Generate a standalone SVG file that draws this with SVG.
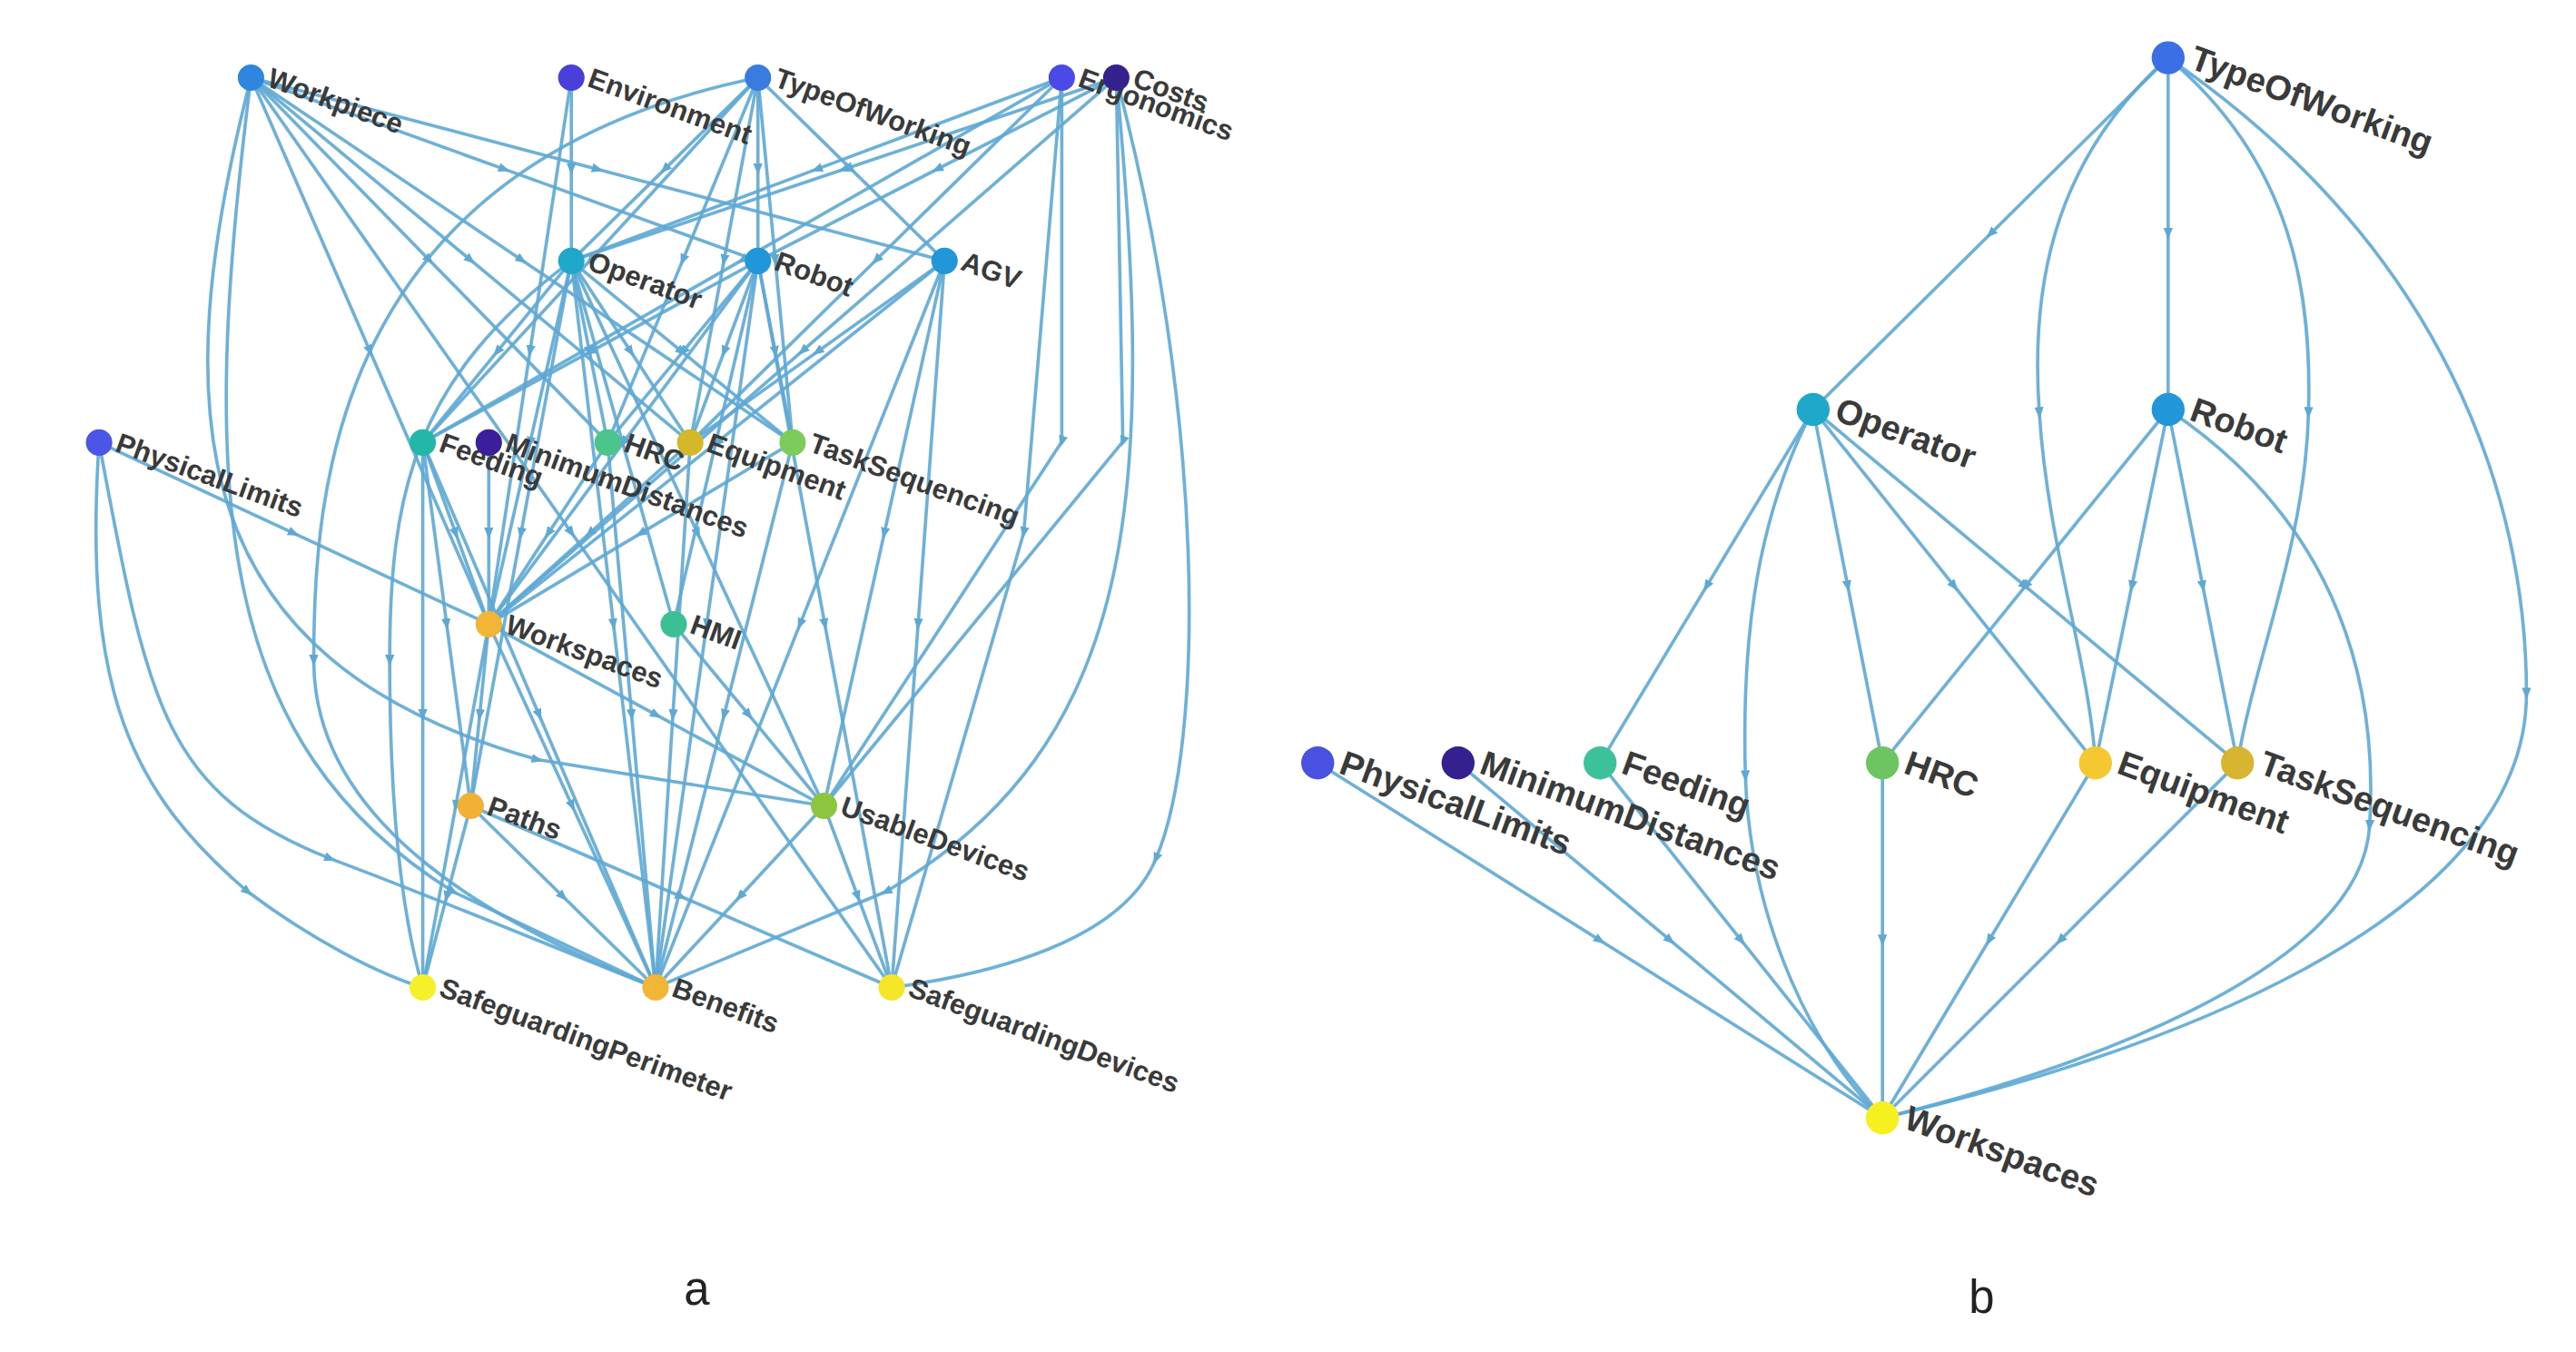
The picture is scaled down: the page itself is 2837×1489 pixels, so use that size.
<svg xmlns="http://www.w3.org/2000/svg" width="2837" height="1489" viewBox="0 0 2837 1489">
<defs>
<marker id="ar" viewBox="0 0 10 10" refX="5" refY="5" markerWidth="7" markerHeight="7" markerUnits="userSpaceOnUse" orient="auto"><path d="M0,1 L10,5 L0,9 Z" fill="#5ea8d4"/></marker>
<style>
.e{fill:none;stroke:#5ea8d4;stroke-width:2;stroke-opacity:0.9;marker-mid:url(#ar)}
.la{font-family:"Liberation Sans",Arial,sans-serif;font-size:17px;font-weight:bold;fill:#3a3a3a}
.lb{font-family:"Liberation Sans",Arial,sans-serif;font-size:21px;font-weight:bold;fill:#3a3a3a}
.cap{font-family:"Liberation Sans",Arial,sans-serif;font-size:28px;fill:#222}
</style>
</defs>
<rect width="2837" height="1489" fill="#fff"/>
<g transform="scale(1.8186)">
<g id="connectors">
<path class="e" d="M152 47L305.5 102.5L459 158"/>
<path class="e" d="M152 47L362 102.5L572 158"/>
<path class="e" d="M152 47L285 157.5L418 268"/>
<path class="e" d="M152 47L316 157.5L480 268"/>
<path class="e" d="M152 47L260 157.5L368 268"/>
<path class="e" d="M152 47L224 212.5L296 378"/>
<path class="e" d="M152 47C100 250 110 400 325.5 460L499 488"/>
<path class="e" d="M152 47C120 300 130 450 274.5 540L397 598"/>
<path class="e" d="M152 47L346 322.5L540 598"/>
<path class="e" d="M346 47L346 102.5L346 158"/>
<path class="e" d="M346 47L321 212.5L296 378"/>
<path class="e" d="M459 47L402.5 102.5L346 158"/>
<path class="e" d="M459 47L459 102.5L459 158"/>
<path class="e" d="M459 47L515.5 102.5L572 158"/>
<path class="e" d="M459 47L357.5 157.5L256 268"/>
<path class="e" d="M459 47L438.5 157.5L418 268"/>
<path class="e" d="M459 47L469.5 157.5L480 268"/>
<path class="e" d="M459 47L413.5 157.5L368 268"/>
<path class="e" d="M459 47C200 100 190 300 190 400C190 500 300 560 397 598"/>
<path class="e" d="M643 47L494.5 102.5L346 158"/>
<path class="e" d="M643 47L449.5 157.5L256 268"/>
<path class="e" d="M643 47L530.5 157.5L418 268"/>
<path class="e" d="M643 47L643 267.5L499 488"/>
<path class="e" d="M643 47L620 322.5L540 598"/>
<path class="e" d="M676 47L511 102.5L346 158"/>
<path class="e" d="M676 47L567.5 102.5L459 158"/>
<path class="e" d="M676 47L486 212.5L296 378"/>
<path class="e" d="M676 47C700 300 690 450 536.5 540L397 598"/>
<path class="e" d="M676 47L680 267.5L499 488"/>
<path class="e" d="M676 47C730 250 730 450 700 520C680 570 600 590 540 598"/>
<path class="e" d="M346 158L301 213L256 268"/>
<path class="e" d="M346 158L357 213L368 268"/>
<path class="e" d="M346 158L382 213L418 268"/>
<path class="e" d="M346 158L413 213L480 268"/>
<path class="e" d="M346 158L321 268L296 378"/>
<path class="e" d="M346 158L377 268L408 378"/>
<path class="e" d="M346 158L315.5 323L285 488"/>
<path class="e" d="M346 158L422.5 323L499 488"/>
<path class="e" d="M346 158L371.5 378L397 598"/>
<path class="e" d="M346 158C250 230 236 300 236 400C236 500 245 560 256 598"/>
<path class="e" d="M459 158L357.5 213L256 268"/>
<path class="e" d="M459 158L413.5 213L368 268"/>
<path class="e" d="M459 158L438.5 213L418 268"/>
<path class="e" d="M459 158L469.5 213L480 268"/>
<path class="e" d="M459 158L377.5 268L296 378"/>
<path class="e" d="M459 158L433.5 268L408 378"/>
<path class="e" d="M459 158L428 378L397 598"/>
<path class="e" d="M459 158L499.5 378L540 598"/>
<path class="e" d="M572 158L434 268L296 378"/>
<path class="e" d="M572 158L495 213L418 268"/>
<path class="e" d="M572 158L535.5 323L499 488"/>
<path class="e" d="M572 158L484.5 378L397 598"/>
<path class="e" d="M572 158L556 378L540 598"/>
<path class="e" d="M60 268L178 323L296 378"/>
<path class="e" d="M60 268C50 420 80 480 150 540C190 570 230 590 256 598"/>
<path class="e" d="M60 268C90 430 100 480 200 520C280 550 350 580 397 598"/>
<path class="e" d="M256 268L276 323L296 378"/>
<path class="e" d="M256 268L270.5 378L285 488"/>
<path class="e" d="M256 268L326.5 433L397 598"/>
<path class="e" d="M256 268L256 433L256 598"/>
<path class="e" d="M296 268L296 323L296 378"/>
<path class="e" d="M368 268L332 323L296 378"/>
<path class="e" d="M368 268L382.5 433L397 598"/>
<path class="e" d="M418 268L357 323L296 378"/>
<path class="e" d="M418 268L407.5 433L397 598"/>
<path class="e" d="M480 268L388 323L296 378"/>
<path class="e" d="M480 268L438.5 433L397 598"/>
<path class="e" d="M296 378L290.5 433L285 488"/>
<path class="e" d="M296 378L397.5 433L499 488"/>
<path class="e" d="M296 378L346.5 488L397 598"/>
<path class="e" d="M296 378L276 488L256 598"/>
<path class="e" d="M408 378L453.5 433L499 488"/>
<path class="e" d="M285 488L341 543L397 598"/>
<path class="e" d="M285 488L412.5 543L540 598"/>
<path class="e" d="M285 488L270.5 543L256 598"/>
<path class="e" d="M499 488L448 543L397 598"/>
<path class="e" d="M499 488L519.5 543L540 598"/>

<path class="e" d="M1313 35L1205.5 141.5L1098 248"/>
<path class="e" d="M1313 35L1313 141.5L1313 248"/>
<path class="e" d="M1313 35C1240 100 1230 180 1235 250C1240 330 1265 400 1269 462"/>
<path class="e" d="M1313 35C1390 100 1400 180 1398 250C1396 330 1365 400 1355 462"/>
<path class="e" d="M1313 35C1480 150 1530 300 1530 420C1530 560 1300 640 1140 677"/>
<path class="e" d="M1098 248L1033.5 355L969 462"/>
<path class="e" d="M1098 248L1119 355L1140 462"/>
<path class="e" d="M1098 248L1183.5 355L1269 462"/>
<path class="e" d="M1098 248L1226.5 355L1355 462"/>
<path class="e" d="M1098 248C1060 320 1055 400 1057 470C1060 560 1100 640 1140 677"/>
<path class="e" d="M1313 248L1226.5 355L1140 462"/>
<path class="e" d="M1313 248L1291 355L1269 462"/>
<path class="e" d="M1313 248L1334 355L1355 462"/>
<path class="e" d="M1313 248C1420 320 1440 420 1435 500C1430 590 1250 650 1140 677"/>
<path class="e" d="M798 462L969 569.5L1140 677"/>
<path class="e" d="M883 462L1011.5 569.5L1140 677"/>
<path class="e" d="M969 462L1054.5 569.5L1140 677"/>
<path class="e" d="M1140 462L1140 569.5L1140 677"/>
<path class="e" d="M1269 462L1204.5 569.5L1140 677"/>
<path class="e" d="M1355 462L1247.5 569.5L1140 677"/>
</g>

<g id="a-Workpiece"><circle cx="152" cy="47" r="8" fill="#2e86de"/><text class="la" transform="translate(161,52) rotate(20)">Workpiece</text></g>
<g id="a-Environment"><circle cx="346" cy="47" r="8" fill="#4b3fd9"/><text class="la" transform="translate(355,52) rotate(20)">Environment</text></g>
<g id="a-TypeOfWorking"><circle cx="459" cy="47" r="8" fill="#3a7be0"/><text class="la" transform="translate(468,52) rotate(20)">TypeOfWorking</text></g>
<g id="a-Ergonomics"><circle cx="643" cy="47" r="8" fill="#4c4ae6"/><text class="la" transform="translate(652,52) rotate(20)">Ergonomics</text></g>
<g id="a-Costs"><circle cx="676" cy="47" r="8" fill="#35208f"/><text class="la" transform="translate(685,52) rotate(20)">Costs</text></g>
<g id="a-Operator"><circle cx="346" cy="158" r="8" fill="#1fa8c9"/><text class="la" transform="translate(355,163) rotate(20)">Operator</text></g>
<g id="a-Robot"><circle cx="459" cy="158" r="8" fill="#2196d8"/><text class="la" transform="translate(468,163) rotate(20)">Robot</text></g>
<g id="a-AGV"><circle cx="572" cy="158" r="8" fill="#2196d8"/><text class="la" transform="translate(581,163) rotate(20)">AGV</text></g>
<g id="a-PhysicalLimits"><circle cx="60" cy="268" r="8" fill="#4b55e6"/><text class="la" transform="translate(69,273) rotate(20)">PhysicalLimits</text></g>
<g id="a-Feeding"><circle cx="256" cy="268" r="8" fill="#23b7a8"/><text class="la" transform="translate(265,273) rotate(20)">Feeding</text></g>
<g id="a-MinimumDistances"><circle cx="296" cy="268" r="8" fill="#3a1e9a"/><text class="la" transform="translate(305,273) rotate(20)">MinimumDistances</text></g>
<g id="a-HRC"><circle cx="368" cy="268" r="8" fill="#4cc58a"/><text class="la" transform="translate(377,273) rotate(20)">HRC</text></g>
<g id="a-Equipment"><circle cx="418" cy="268" r="8" fill="#d4b82a"/><text class="la" transform="translate(427,273) rotate(20)">Equipment</text></g>
<g id="a-TaskSequencing"><circle cx="480" cy="268" r="8" fill="#7dcb5a"/><text class="la" transform="translate(489,273) rotate(20)">TaskSequencing</text></g>
<g id="a-Workspaces"><circle cx="296" cy="378" r="8" fill="#f2b535"/><text class="la" transform="translate(305,383) rotate(20)">Workspaces</text></g>
<g id="a-HMI"><circle cx="408" cy="378" r="8" fill="#3dbf95"/><text class="la" transform="translate(417,383) rotate(20)">HMI</text></g>
<g id="a-Paths"><circle cx="285" cy="488" r="8" fill="#f2b035"/><text class="la" transform="translate(294,493) rotate(20)">Paths</text></g>
<g id="a-UsableDevices"><circle cx="499" cy="488" r="8" fill="#8cc63f"/><text class="la" transform="translate(508,493) rotate(20)">UsableDevices</text></g>
<g id="a-SafeguardingPerimeter"><circle cx="256" cy="598" r="8" fill="#f5f02a"/><text class="la" transform="translate(265,603) rotate(20)">SafeguardingPerimeter</text></g>
<g id="a-Benefits"><circle cx="397" cy="598" r="8" fill="#f2b535"/><text class="la" transform="translate(406,603) rotate(20)">Benefits</text></g>
<g id="a-SafeguardingDevices"><circle cx="540" cy="598" r="8" fill="#f5e62a"/><text class="la" transform="translate(549,603) rotate(20)">SafeguardingDevices</text></g>

<g id="b-TypeOfWorking"><circle cx="1313" cy="35" r="10" fill="#3a6fe6"/><text class="lb" transform="translate(1325,41) rotate(20)">TypeOfWorking</text></g>
<g id="b-Operator"><circle cx="1098" cy="248" r="10" fill="#1fa8c9"/><text class="lb" transform="translate(1110,254) rotate(20)">Operator</text></g>
<g id="b-Robot"><circle cx="1313" cy="248" r="10" fill="#2196d8"/><text class="lb" transform="translate(1325,254) rotate(20)">Robot</text></g>
<g id="b-PhysicalLimits"><circle cx="798" cy="462" r="10" fill="#4a50e0"/><text class="lb" transform="translate(810,468) rotate(20)">PhysicalLimits</text></g>
<g id="b-MinimumDistances"><circle cx="883" cy="462" r="10" fill="#35208f"/><text class="lb" transform="translate(895,468) rotate(20)">MinimumDistances</text></g>
<g id="b-Feeding"><circle cx="969" cy="462" r="10" fill="#3cc19a"/><text class="lb" transform="translate(981,468) rotate(20)">Feeding</text></g>
<g id="b-HRC"><circle cx="1140" cy="462" r="10" fill="#6cc560"/><text class="lb" transform="translate(1152,468) rotate(20)">HRC</text></g>
<g id="b-Equipment"><circle cx="1269" cy="462" r="10" fill="#f5c832"/><text class="lb" transform="translate(1281,468) rotate(20)">Equipment</text></g>
<g id="b-TaskSequencing"><circle cx="1355" cy="462" r="10" fill="#d8b530"/><text class="lb" transform="translate(1367,468) rotate(20)">TaskSequencing</text></g>
<g id="b-Workspaces"><circle cx="1140" cy="677" r="10" fill="#f6f01f"/><text class="lb" transform="translate(1152,683) rotate(20)">Workspaces</text></g>

<text class="cap" x="422" y="790" text-anchor="middle">a</text>
<text class="cap" x="1200" y="795" text-anchor="middle">b</text>
</g>
</svg>
